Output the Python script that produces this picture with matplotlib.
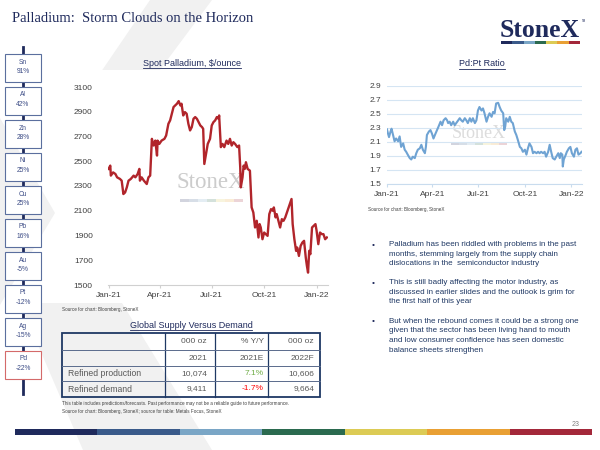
import matplotlib
matplotlib.use("Agg")
import matplotlib.pyplot as plt
import numpy as np
import pandas as pd
from matplotlib.patches import Rectangle, Polygon

plt.rcParams['font.family'] = ['Liberation Sans', 'DejaVu Sans']

# ---- data ----
metals = ['Sn', 'Al', 'Zn', 'Ni', 'Cu', 'Pb', 'Au', 'Pt', 'Ag', 'Pd']
metal_change = [91, 42, 28, 25, 25, 16, -5, -12, -15, -22]

# spot palladium, $/oz (days since 1 Jan 2021)
pd_days = [0, 3, 4, 8, 12, 15, 20, 23, 26, 29, 32, 35, 39, 44, 47, 51, 54, 55, 58, 62,
           67, 70, 73, 76, 79, 82, 85, 86, 89, 93, 98, 101, 105, 108, 111, 114, 117, 120,
           123, 126, 128, 131, 134, 137, 140, 143, 146, 149, 152, 155, 158, 161, 164, 166,
           168, 171, 174, 178, 181, 184, 187, 190, 193, 194, 197, 200, 203, 207, 210, 213,
           216, 219, 222, 226, 229, 231, 232, 235, 237, 239, 241, 244, 248, 251, 254, 257,
           260, 263, 265, 267, 270, 273, 276, 279, 282, 285, 288, 290, 293, 295, 298, 301,
           304, 307, 310, 312, 315, 318, 321, 323, 326, 329, 331, 334, 337, 340, 343, 346,
           348, 350, 352, 354, 357, 360, 363, 365, 368, 371, 374, 377, 380, 383]
pd_price = [2438, 2465, 2384, 2410, 2397, 2370, 2357, 2343, 2235, 2248, 2289, 2343, 2357,
            2384, 2370, 2397, 2438, 2343, 2370, 2343, 2316, 2370, 2384, 2681, 2627, 2667,
            2546, 2667, 2640, 2667, 2681, 2708, 2803, 2830, 2884, 2938, 2951, 2965, 2986,
            2951, 2965, 2870, 2897, 2884, 2803, 2749, 2776, 2843, 2857, 2843, 2816, 2789,
            2776, 2762, 2478, 2559, 2640, 2681, 2789, 2816, 2830, 2857, 2843, 2870, 2614,
            2640, 2614, 2667, 2640, 2681, 2627, 2654, 2640, 2614, 2627, 2451, 2289, 2370,
            2465, 2438, 2492, 2438, 2424, 2127, 2086, 1965, 2019, 1884, 1992, 1965, 1870,
            1924, 1911, 1897, 2073, 2113, 2100, 2127, 2046, 2073, 2019, 1965, 2032, 2019,
            2046, 2073, 2113, 2154, 2195, 1992, 1870, 1776, 1803, 1735, 1816, 1843, 1857,
            1722, 1654, 1600, 1776, 1749, 1965, 1978, 1992, 1938, 1830, 1924, 1911, 1911,
            1870, 1884]

# Pd:Pt ratio
ratio_days = [0, 2, 4, 7, 9, 12, 15, 18, 22, 25, 28, 32, 35, 38, 41, 45, 48, 51, 55, 58,
              61, 65, 68, 71, 75, 77, 79, 83, 86, 89, 92, 96, 99, 102, 106, 109, 112, 116,
              119, 121, 124, 127, 131, 134, 137, 141, 144, 147, 150, 154, 157, 160, 164,
              167, 170, 174, 177, 180, 183, 187, 190, 193, 197, 200, 203, 207, 210, 213,
              216, 220, 223, 226, 230, 232, 234, 236, 240, 243, 246, 249, 253, 256, 259,
              263, 266, 269, 273, 276, 279, 282, 286, 289, 292, 296, 299, 302, 305, 309,
              312, 315, 319, 322, 325, 328, 332, 335, 339, 342, 344, 347, 348, 350, 354,
              356, 360, 363, 366, 370, 373, 376, 379, 383, 385]
ratio = [2.28, 2.22, 2.17, 2.25, 2.29, 2.20, 2.11, 2.15, 2.11, 2.18, 2.03, 2.08, 1.99,
         1.96, 1.92, 1.87, 1.85, 1.89, 1.87, 1.94, 1.99, 2.01, 2.06, 1.99, 1.94, 2.03,
         2.20, 2.25, 2.27, 2.22, 2.15, 2.22, 2.27, 2.32, 2.39, 2.34, 2.41, 2.44, 2.41,
         2.37, 2.39, 2.34, 2.39, 2.34, 2.37, 2.41, 2.44, 2.41, 2.39, 2.44, 2.41, 2.37,
         2.44, 2.39, 2.44, 2.37, 2.41, 2.55, 2.60, 2.55, 2.58, 2.51, 2.39, 2.46, 2.51,
         2.46, 2.53, 2.51, 2.65, 2.66, 2.60, 2.55, 2.51, 2.27, 2.32, 2.44, 2.39, 2.46,
         2.39, 2.37, 2.25, 2.20, 2.13, 2.03, 2.01, 1.96, 1.99, 1.92, 2.01, 2.08, 2.03,
         1.94, 1.96, 1.94, 1.96, 1.94, 1.96, 1.94, 1.96, 1.89, 1.96, 2.06, 1.96, 1.87,
         1.85, 1.89, 1.94, 1.87, 1.94, 1.92, 1.75, 1.85, 1.92, 1.96, 2.01, 2.03, 1.94,
         1.89, 1.99, 2.01, 1.92, 1.94, 1.96]

tick_dates = ['2021-01-01', '2021-04-01', '2021-07-01', '2021-10-01', '2022-01-01']
tick_labels = ['Jan-21', 'Apr-21', 'Jul-21', 'Oct-21', 'Jan-22']

table_head1 = ['000 oz', '% Y/Y', '000 oz']
table_head2 = ['2021', '2021E', '2022F']
table_rows = ['Refined production', 'Refined demand']
table_vals = [['10,074', '7.1%', '10,606'], ['9,411', '-1.7%', '9,664']]

bullets = [
    "Palladium has been riddled with problems in the past\nmonths, stemming largely from the supply chain\ndislocations in the  semiconductor industry",
    "This is still badly affecting the motor industry, as\ndiscussed in earlier slides and the outlook is grim for\nthe first half of this year",
    "But when the rebound comes it could be a strong one\ngiven that the sector has been living hand to mouth\nand low consumer confidence has seen domestic\nbalance sheets strengthen",
]

brand_colors = ['#1f2a5c', '#3a5a8a', '#7aa6c6', '#2b6a4f', '#dccb55', '#e9a034', '#a3283a']
navy = '#1f2a5c'

start = pd.Timestamp('2021-01-01')
pd_dates = start + pd.to_timedelta(pd_days, unit='D')
ratio_dates = start + pd.to_timedelta(ratio_days, unit='D')
ticks = pd.to_datetime(tick_dates)

fig = plt.figure(figsize=(6, 4.5), dpi=100)
fig.patch.set_facecolor('white')

# page layer in pixel coordinates
page = fig.add_axes([0, 0, 1, 1], zorder=0)
page.set_xlim(0, 600)
page.set_ylim(450, 0)
page.axis('off')

# faint X watermark
wm = '#f1f1f1'
page.add_patch(Polygon([(150, 0), (212, 0), (130, 110), (75, 110)], color=wm, lw=0))
page.add_patch(Polygon([(0, 118), (55, 213), (0, 305)], color=wm, lw=0))
page.add_patch(Polygon([(20, 303), (122, 303), (212, 450), (83, 450)], color=wm, lw=0))
page.add_patch(Rectangle((77, 70), 263, 233, color='white', lw=0))

# title and logo
page.text(12, 18, 'Palladium:  Storm Clouds on the Horizon', family='Liberation Serif',
          fontsize=10.5, color=navy, va='center', ha='left')
page.text(500, 37, 'StoneX', family='Liberation Serif', fontweight='bold',
          fontsize=18.5, color=navy, va='baseline', ha='left')
page.text(582, 22, 'TM', fontsize=2, color=navy)
seg = (580 - 501) / len(brand_colors)
for i, c in enumerate(brand_colors):
    page.add_patch(Rectangle((501 + i * seg, 41), seg, 3, color=c, lw=0))

# metal ladder
page.plot([22.5, 22.5], [47, 394], color=navy, lw=2, zorder=1)
for i, (m, v) in enumerate(zip(metals, metal_change)):
    top = 54 + i * 33
    edge = '#d46a6a' if m == 'Pd' else '#5b6f9e'
    page.add_patch(Rectangle((5, top), 36, 28, facecolor='white', edgecolor=edge,
                             lw=0.8, zorder=2))
    page.text(23, top + 8, m, fontsize=4.8, color='#3b4b85', ha='center', va='center', zorder=3)
    page.text(23, top + 17.5, f'{v}%', fontsize=4.8, color='#3b4b85', ha='center',
              va='center', zorder=3)

# chart titles (underlined)
renderer = fig.canvas.get_renderer()


def underlined(x, y, s, **kw):
    t = page.text(x, y, s, ha='center', va='center', **kw)
    bb = t.get_window_extent(renderer)
    page.plot([bb.x0, bb.x1], [450 - bb.y0 + 0.5] * 2, color=kw.get('color', navy), lw=0.6)
    return t


underlined(192, 63, 'Spot Palladium, $/ounce', fontsize=6.5, color=navy)
underlined(482, 64, 'Pd:Pt Ratio', fontsize=6.5, color=navy)

# chart watermarks
page.text(211, 183, 'StoneX', family='Liberation Serif', fontsize=16.5, color='#cccccc',
          ha='center', va='center', zorder=1)
seg = 63 / len(brand_colors)
for i, c in enumerate(brand_colors):
    page.add_patch(Rectangle((180 + i * seg, 199), seg, 3, color=c, alpha=0.2, lw=0))
page.text(479, 134, 'StoneX', family='Liberation Serif', fontsize=13, color='#dcdcdc',
          ha='center', va='center', zorder=1)
seg = 56 / len(brand_colors)
for i, c in enumerate(brand_colors):
    page.add_patch(Rectangle((451 + i * seg, 143), seg, 1.5, color=c, alpha=0.2, lw=0))

# spot palladium chart
ax1 = fig.add_axes([108 / 600, 1 - 285 / 450, 220 / 600, 198 / 450], zorder=2)
ax1.patch.set_alpha(0)
ax1.plot(pd_dates, pd_price, color='#b1252b', lw=1.7)
ax1.set_ylim(1500, 3100)
ax1.set_yticks(range(1500, 3101, 200))
ax1.set_xlim(start - pd.Timedelta(days=1), start + pd.Timedelta(days=385))
ax1.set_xticks(ticks)
ax1.set_xticklabels(tick_labels)
for s in ['top', 'right', 'left']:
    ax1.spines[s].set_visible(False)
ax1.spines['bottom'].set_color('#d0d0d0')
ax1.tick_params(axis='y', length=0, pad=11, labelsize=6, labelcolor='#404040')
ax1.tick_params(axis='x', length=2, color='#d0d0d0', pad=3, labelsize=6, labelcolor='#404040')

# Pd:Pt ratio chart
ax2 = fig.add_axes([387 / 600, 1 - 184 / 450, 195 / 600, 98 / 450], zorder=2)
ax2.patch.set_alpha(0)
ax2.plot(ratio_dates, ratio, color='#6fa3d3', lw=1.5)
ax2.set_ylim(1.5, 2.9)
ax2.set_yticks(np.arange(1.5, 2.95, 0.2))
ax2.set_yticklabels([f'{v:.1f}' for v in np.arange(1.5, 2.95, 0.2)])
ax2.set_xlim(start, start + pd.Timedelta(days=386))
ax2.set_xticks(ticks)
ax2.set_xticklabels(tick_labels)
ax2.grid(axis='y', color='#d5e5f3', lw=0.8)
ax2.set_axisbelow(True)
for s in ['top', 'right', 'left']:
    ax2.spines[s].set_visible(False)
ax2.spines['bottom'].set_color('#c9dcee')
ax2.tick_params(axis='y', length=0, pad=4, labelsize=6, labelcolor='#404040')
ax2.tick_params(axis='x', length=2, color='#c9dcee', pad=3, labelsize=6, labelcolor='#404040')

# sources
page.text(62, 309, 'Source for chart: Bloomberg, StoneX', fontsize=3.3, color='#404040', va='center')
page.text(368, 210, 'Source for chart: Bloomberg, StoneX', fontsize=3.3, color='#404040', va='center')

# bullets
by = [245, 283, 322]
for y, b in zip(by, bullets):
    page.text(372, y, '\u2022', fontsize=6, color=navy, va='center')
    page.text(389, y - 4, b, fontsize=5.8, color='#1f3864', va='top', linespacing=1.5)

# supply/demand table
underlined(191, 325, 'Global Supply Versus Demand', fontsize=6.5, color=navy)
cx = [62, 165, 215, 268, 320]
ry = [333, 350, 366, 381, 397]
tc = '#1f3864'
for x in cx[1:-1]:
    page.plot([x, x], [ry[0], ry[-1]], color=tc, lw=0.9)
for y in ry[1:-1]:
    page.plot([cx[0], cx[-1]], [y, y], color='#5a6b8c', lw=0.7)
page.add_patch(Rectangle((cx[0], ry[0]), cx[-1] - cx[0], ry[-1] - ry[0], fill=False,
                         edgecolor=tc, lw=1.3))
cell = '#595959'
pads = [8, 4, 6]
for j in range(3):
    page.text(cx[j + 2] - pads[j], (ry[0] + ry[1]) / 2, table_head1[j], fontsize=6,
              color=cell, ha='right', va='center')
    page.text(cx[j + 2] - pads[j], (ry[1] + ry[2]) / 2, table_head2[j], fontsize=6,
              color=cell, ha='right', va='center')
for i, name in enumerate(table_rows):
    yc = (ry[i + 2] + ry[i + 3]) / 2
    page.text(68, yc, name, fontsize=6.2, color=cell, ha='left', va='center')
    for j, v in enumerate(table_vals[i]):
        col = cell
        if j == 1:
            col = '#70ad47' if not v.startswith('-') else '#ff0000'
        page.text(cx[j + 2] - pads[j], yc, v, fontsize=6, color=col, ha='right', va='center')

page.text(62, 404, 'This table includes predictions/forecasts. Past performance may not be a reliable guide to future performance.',
          fontsize=3.3, color='#404040', va='center')
page.text(62, 411, 'Source for chart: Bloomberg, StoneX; source for table: Metals Focus, StoneX',
          fontsize=3.3, color='#404040', va='center')

# footer
page.text(580, 424, '23', fontsize=5, color='#7f7f7f', ha='right', va='center')
seg = (592 - 15) / len(brand_colors)
for i, c in enumerate(brand_colors):
    page.add_patch(Rectangle((15 + i * seg, 429), seg, 6, color=c, lw=0))

fig.savefig('out.png', dpi=100)
